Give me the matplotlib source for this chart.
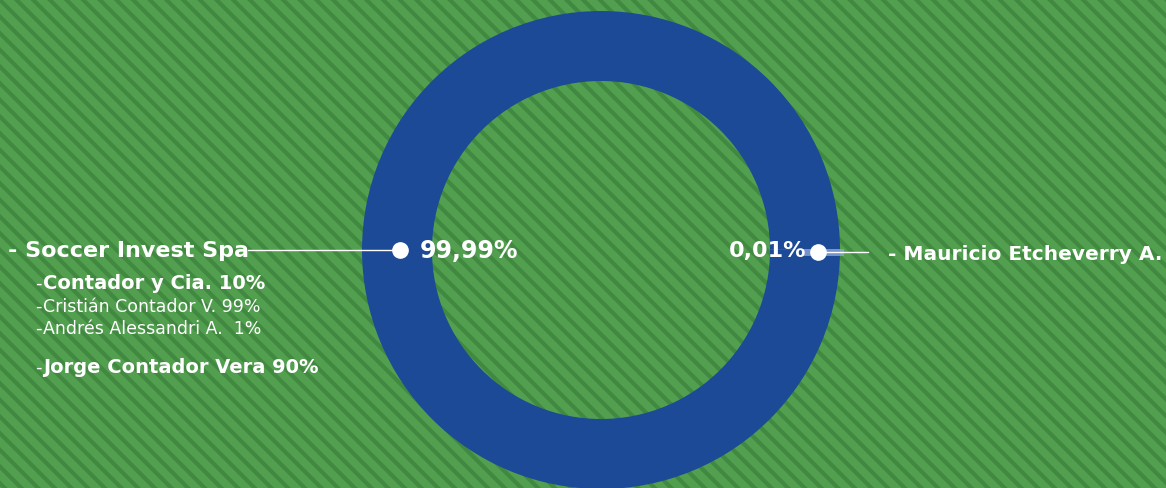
import matplotlib
matplotlib.use("Agg")
import matplotlib.pyplot as plt
from matplotlib.patches import Rectangle

# ownership shares
owners = ["Soccer Invest Spa", "Mauricio Etcheverry A."]
shares = [99.99, 0.01]
share_labels = ["99,99%", "0,01%"]

# partners behind Soccer Invest Spa
sub_names = ["Contador y Cia. 10%", "Cristián Contador V. 99%",
             "Andrés Alessandri A.  1%", "Jorge Contador Vera 90%"]
sub_bold = [True, False, False, True]

plt.rcParams["hatch.linewidth"] = 3.0

W, H = 1166, 489
fig = plt.figure(figsize=(W / 100, H / 100), dpi=100)
ax = fig.add_axes([0, 0, 1, 1])

# striped green background
ax.add_patch(Rectangle((0, 0), W, H, facecolor="#52a04f", edgecolor="#418841",
                       hatch="\\\\", linewidth=0, zorder=0))

cx, cy, r = 601, 489 - 251, 239
ax.pie(shares, colors=["#1c4a97", "#8aa6d6"], startangle=0.0,
       counterclock=False, radius=r, center=(cx, cy),
       wedgeprops=dict(width=70, linewidth=0), frame=True)
ax.set_xlim(0, W)
ax.set_ylim(0, H)
ax.set_aspect("equal")
ax.axis("off")

font = "DejaVu Sans"
# left callout
ly = 489 - 251
ax.plot([248, 400], [ly, ly], color="white", lw=1, zorder=3)
ax.plot([400], [ly], "o", color="white", ms=11, zorder=4)
ax.text(8, ly, "- " + owners[0], color="white", fontsize=16, fontweight="bold",
        va="center", ha="left", family=font)
ax.text(420, ly, share_labels[0], color="white", fontsize=17, fontweight="bold",
        va="center", ha="left", family=font)

# right callout
ry = 489 - 253
ax.plot([806, 840], [ry, ry], color="#8aa6d6", lw=5, alpha=0.8, zorder=3)
ax.plot([818, 868], [ry, ry], color="white", lw=1, zorder=3)
ax.plot([818], [ry], "o", color="white", ms=11, zorder=4)
ax.text(806, ry + 2, share_labels[1], color="white", fontsize=16, fontweight="bold",
        va="center", ha="right", family=font)
ax.text(888, ry - 2, "- " + owners[1], color="white", fontsize=14.5, fontweight="bold",
        va="center", ha="left", family=font)

# partners list
sub_y = [284, 307, 329, 368]
for name, bold, y in zip(sub_names, sub_bold, sub_y):
    yy = 489 - y
    ax.text(35, yy, "-", color="white", fontsize=13,
            va="center", ha="left", family=font)
    ax.text(43, yy, name, color="white", fontsize=14 if bold else 12.5,
            fontweight="bold" if bold else "normal", va="center", ha="left", family=font)

fig.savefig("out.png", dpi=100)
